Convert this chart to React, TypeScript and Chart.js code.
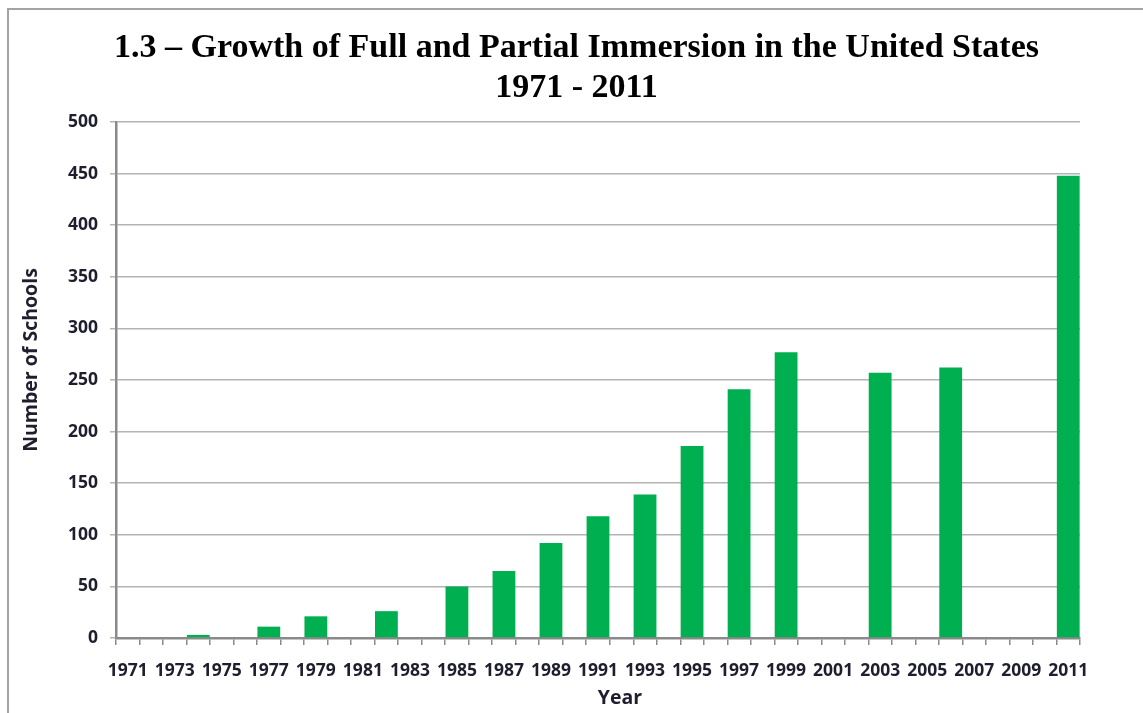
import React, { useEffect, useRef } from 'react';
import { Chart, registerables } from 'chart.js';

Chart.register(...registerables);

// ---- data ----
const years: string[] = [
  '1971', '1972', '1973', '1974', '1975', '1976', '1977', '1978', '1979', '1980',
  '1981', '1982', '1983', '1984', '1985', '1986', '1987', '1988', '1989', '1990',
  '1991', '1992', '1993', '1994', '1995', '1996', '1997', '1998', '1999', '2000',
  '2001', '2002', '2003', '2004', '2005', '2006', '2007', '2008', '2009', '2010',
  '2011',
];

const schools: (number | null)[] = [
  null, null, null, 3, null, null, 11, null, 21, null,
  null, 26, null, null, 50, null, 65, null, 92, null,
  118, null, 139, null, 186, null, 241, null, 277, null,
  null, null, 257, null, null, 262, null, null, null, null,
  448,
];

const yMin = 0;
const yMax = 500;
const yStep = 50;

const titleLines: string[] = [
  '1.3 – Growth of Full and Partial Immersion in the United States',
  '1971 - 2011',
];
const yAxisTitle = 'Number of Schools';
const xAxisTitle = 'Year';

// ---- styles ----
const BAR_COLOR = '#00B050';
const GRID_COLOR = '#b4b4b4';
const AXIS_COLOR = '#8a8a8a';
const TICK_TEXT = '#1e1e2e';
const TICK_FONT = { family: '"Open Sans", sans-serif', size: 17.5, weight: 'bold' as const };

const axisTitlePlugin = {
  id: 'axisTitlesCustom',
  afterDraw(chart: any) {
    const { ctx, chartArea } = chart;
    ctx.save();
    ctx.fillStyle = TICK_TEXT;
    ctx.font = 'bold 19.5px "Open Sans", sans-serif';
    ctx.textAlign = 'center';
    ctx.textBaseline = 'middle';
    ctx.save();
    ctx.translate(31, (chartArea.top + chartArea.bottom) / 2 - 20);
    ctx.rotate(-Math.PI / 2);
    ctx.fillText(yAxisTitle, 0, 0);
    ctx.restore();
    ctx.fillText(xAxisTitle, (chartArea.left + chartArea.right) / 2 + 22, 698);
    ctx.restore();
  },
};

export default function App() {
  const canvasRef = useRef<HTMLCanvasElement | null>(null);

  useEffect(() => {
    if (!canvasRef.current) return;
    const chart = new Chart(canvasRef.current, {
      type: 'bar',
      data: {
        labels: years,
        datasets: [
          {
            label: 'Number of Schools',
            data: schools,
            backgroundColor: BAR_COLOR,
            borderWidth: 0,
            categoryPercentage: 1,
            barPercentage: 0.97,
            yAxisID: 'y',
          },
        ],
      },
      options: {
        responsive: false,
        animation: false,
        devicePixelRatio: 1,
        layout: { padding: { left: 10, right: 0, top: 0, bottom: 0 } },
        plugins: {
          legend: { display: false },
          tooltip: { enabled: false },
          title: {
            display: true,
            text: titleLines,
            color: '#000',
            font: { family: '"Liberation Serif", serif', size: 34, weight: 'bold', lineHeight: '40px' },
            padding: { top: 28, bottom: 14 },
          },
        },
        scales: {
          x: {
            type: 'category',
            offset: true,
            afterFit: (s: any) => { s.height = 75; },
            grid: {
              display: true,
              offset: true,
              drawOnChartArea: false,
              drawTicks: true,
              tickLength: 7,
              color: AXIS_COLOR,
              lineWidth: 1.5,
            },
            border: { display: true, color: AXIS_COLOR, width: 2.5 },
            ticks: {
              autoSkip: false,
              maxRotation: 0,
              minRotation: 0,
              padding: 16,
              color: TICK_TEXT,
              font: TICK_FONT,
              callback: function (this: any, val: any, idx: number) {
                return idx % 2 === 0 ? years[idx] : '';
              },
            },
          },
          y: {
            type: 'linear',
            position: 'left',
            min: yMin,
            max: yMax,
            afterFit: (s: any) => { s.width = 106; },
            grid: {
              color: GRID_COLOR,
              lineWidth: 1.5,
              drawTicks: true,
              tickLength: 6,
            },
            border: { display: true, color: AXIS_COLOR, width: 2.5 },
            ticks: {
              stepSize: yStep,
              padding: 12,
              color: TICK_TEXT,
              font: TICK_FONT,
            },
          },
          y2: {
            type: 'linear',
            position: 'right',
            display: true,
            afterFit: (s: any) => { s.width = 63; },
            grid: { display: false, drawOnChartArea: false },
            border: { display: false },
            ticks: { display: false },
          },
        },
      },
      plugins: [axisTitlePlugin],
    });
    return () => chart.destroy();
  }, []);

  return (
    <div style={{ position: 'fixed', left: 0, top: 0, width: 1143, height: 713, overflow: 'hidden', background: '#fff' }}>
      <div
        style={{
          position: 'absolute',
          left: 7,
          top: 8,
          width: 1300,
          height: 900,
          borderLeft: '2px solid #a3a3a3',
          borderTop: '2px solid #a3a3a3',
        }}
      />
      <canvas
        ref={canvasRef}
        width={1143}
        height={713}
        style={{ position: 'absolute', left: 0, top: 0, width: 1143, height: 713 }}
      />
    </div>
  );
}
